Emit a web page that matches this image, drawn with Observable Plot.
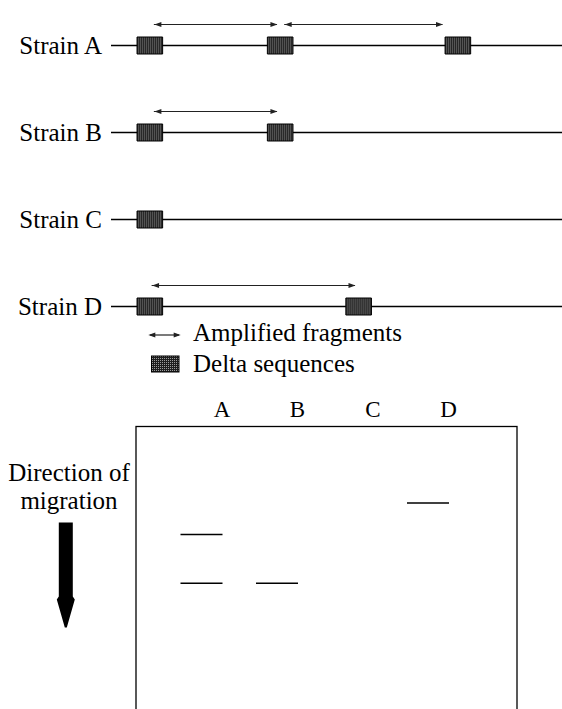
<!DOCTYPE html>
<html>
<head>
<meta charset="utf-8">
<script src="https://cdn.jsdelivr.net/npm/d3@7"></script>
<script src="https://cdn.jsdelivr.net/npm/@observablehq/plot@0.6"></script>
<style>
  html, body { margin: 0; padding: 0; background: white; }
  #wrap { position: relative; width: 562px; height: 709px; overflow: hidden; background: white;
          font-family: "Liberation Serif", "Times New Roman", serif; }
  .layer { position: absolute; left: 0; }
</style>
</head>
<body>
<svg width="0" height="0" style="position:absolute">
  <defs>
    <pattern id="delta" width="2" height="2" patternUnits="userSpaceOnUse">
      <rect width="2" height="2" fill="#1e1e1e"/>
      <rect x="0" y="0" width="1" height="1" fill="#9c9c9c"/>
    </pattern>
  </defs>
</svg>
<div id="wrap">
  <div id="map" class="layer" style="top:0"></div>
  <div id="gel" class="layer" style="top:380px"></div>
  <svg class="layer" style="top:318px" width="562" height="62">
    <line x1="150" x2="179" y1="17" y2="17" stroke="#222" stroke-width="1.2"/>
    <polygon points="180.7,17 173.7,14.5 173.7,19.5" fill="#222"/>
    <polygon points="148.3,17 155.3,14.5 155.3,19.5" fill="#222"/>
    <text x="193" y="23" font-size="25" fill="black">Amplified fragments</text>
    <rect x="151.5" y="38" width="27.5" height="16" fill="url(#delta)" stroke="black" stroke-width="1"/>
    <text x="193" y="54" font-size="25" fill="black">Delta sequences</text>
  </svg>
</div>
<script>
// ---------- Data ----------
const strains = ["A", "B", "C", "D"];
const chromStart = 0, chromEnd = 100;            // chromosome segment (arbitrary units)

// Delta sequence positions
const deltaStrain = ["A", "A", "A", "B", "B", "C", "D", "D"];
const deltaPos    = [8.5, 37.4, 76.8, 8.5, 37.4, 8.5, 8.5, 54.8];

// Amplified fragments (double arrows)
const fragStrain = ["A", "A", "B", "D"];
const fragStart  = [9.5, 38.4, 9.5, 9.0];
const fragEnd    = [36.8, 73.5, 36.8, 54.1];

// Gel
const lanes     = ["A", "B", "C", "D"];
const bandLane  = ["A", "A", "B", "D"];
const bandDist  = [3.82, 5.54, 5.54, 2.70];     // migration distance from the well
const migrationLabel = "Direction of\nmigration";
const migrationLabelY = 2.93;
const migrationArrowY = 6.15;

// ---------- Tables ----------
const deltas = deltaStrain.map((s, i) => ({strain: s, pos: deltaPos[i]}));
const fragments = fragStrain.map((s, i) => ({strain: s, start: fragStart[i], end: fragEnd[i]}));
const bands = bandLane.map((l, i) => ({lane: l, dist: bandDist[i]}));

// ---------- Custom symbols ----------
const deltaBox = {draw(ctx) { ctx.rect(-12.8, -8.5, 25.6, 17); }};
const headRight = {draw(ctx) { ctx.moveTo(0, 0); ctx.lineTo(-7, -2.5); ctx.lineTo(-7, 2.5); ctx.closePath(); }};
const headLeft = {draw(ctx) { ctx.moveTo(0, 0); ctx.lineTo(7, -2.5); ctx.lineTo(7, 2.5); ctx.closePath(); }};
const blockArrow = {draw(ctx) {
  ctx.moveTo(-7, -78); ctx.lineTo(7, -78); ctx.lineTo(7, -4); ctx.lineTo(9, -1);
  ctx.lineTo(1, 27); ctx.lineTo(-1, 27); ctx.lineTo(-9, -1); ctx.lineTo(-7, -4); ctx.closePath();
}};

const font = "'Liberation Serif', 'Times New Roman', serif";

// ---------- Strain map ----------
const map = Plot.plot({
  width: 562,
  height: 330,
  margin: 0,
  x: {domain: [chromStart, chromEnd], range: [111, 562], axis: null},
  y: {type: "point", domain: strains, range: [45, 306.2], padding: 0, axis: null},
  style: {fontFamily: font, background: "white", color: "black", overflow: "visible"},
  marks: [
    Plot.ruleY(strains, {y: d => d, x1: chromStart, x2: chromEnd, stroke: "black", strokeWidth: 1.5}),
    Plot.text(strains, {y: d => d, x: chromStart, text: d => `Strain ${d}`, textAnchor: "end",
      lineAnchor: "middle", dx: -9.5, fontSize: 25, fill: "black"}),
    Plot.ruleY(fragments, {y: "strain", x1: "start", x2: "end", dy: -21, stroke: "#222", strokeWidth: 1.2}),
    Plot.dot(fragments, {x: "start", y: "strain", dy: -21, symbol: headLeft, fill: "#222", stroke: "none"}),
    Plot.dot(fragments, {x: "end", y: "strain", dy: -21, symbol: headRight, fill: "#222", stroke: "none"}),
    Plot.dot(deltas, {x: "pos", y: "strain", symbol: deltaBox, fill: "url(#delta)", stroke: "black", strokeWidth: 1})
  ]
});
document.getElementById("map").appendChild(map);

// ---------- Gel ----------
const gel = Plot.plot({
  width: 562,
  height: 345,
  marginTop: 46,
  marginLeft: 135.5,
  marginRight: 45.5,
  marginBottom: 0,
  x: {type: "band", domain: lanes, range: [180.5, 449], paddingInner: 0.4437, paddingOuter: 0, round: false, axis: null},
  y: {domain: [0, 10], range: [46, 329], axis: null},
  style: {fontFamily: font, background: "white", color: "black", overflow: "visible"},
  marks: [
    Plot.frame({stroke: "black", strokeWidth: 1.3}),
    Plot.text(lanes, {x: d => d, text: d => d, frameAnchor: "top", lineAnchor: "bottom", dy: -10, dx: 20,
      fontSize: 23, fill: "black"}),
    Plot.tickY(bands, {x: "lane", y: "dist", stroke: "black", strokeWidth: 1.5}),
    Plot.text([migrationLabel], {text: d => d, frameAnchor: "left", y: migrationLabelY, dx: -67,
      textAnchor: "middle", lineAnchor: "bottom", lineHeight: 1.15, fontSize: 25, fill: "black"}),
    Plot.dot([migrationLabel], {frameAnchor: "left", y: migrationArrowY, dx: -70.2, symbol: blockArrow,
      fill: "black", stroke: "none"})
  ]
});
document.getElementById("gel").appendChild(gel);
</script>
</body>
</html>
